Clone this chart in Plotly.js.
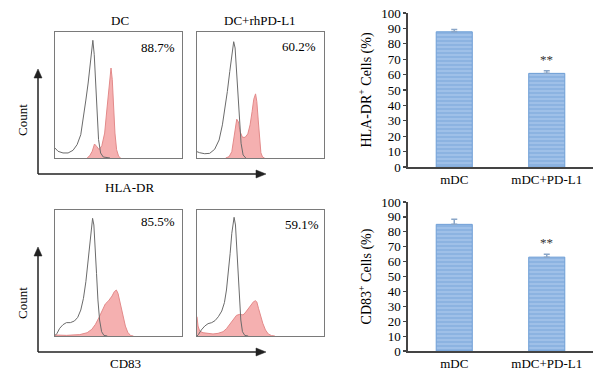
<!DOCTYPE html>
<html>
<head>
<meta charset="utf-8">
<script src="https://cdn.plot.ly/plotly-3.0.1.min.js"></script>
<style>html,body{margin:0;padding:0;background:#fff;}#chart{width:601px;height:376px;}</style>
</head>
<body>
<div id="chart"></div>
<script>
// ---- Flow cytometry histograms (channel 0-100, count normalised 0-100) ----
const hlaDC_grayX = [0,2.4,6.3,10.3,14.2,17.4,20.3,22.7,24.3,26.1,27.4,28.8,29.8,30.9,31.9,33,34.3,35.9,38,43.3];
const hlaDC_grayY = [7.9,5.3,4,4,6.1,10.6,18.5,33,46,59.5,72.8,87.3,93.4,82,59.5,35.7,14.6,4,0.8,0];
const hlaDC_pinkX = [25.3,27.4,29.3,31.1,32.7,34.8,36.9,39.1,40.6,42,43,44.1,45.1,46.2,47.2,48.5,50.1,51.7];
const hlaDC_pinkY = [0,1.9,5.3,11.1,9.3,6.6,9.8,19.8,35.7,51.6,64.8,71.4,62.2,41,19.8,6.6,1.3,0];

const hlaPD_grayX = [0,2.1,6.1,10,13.9,17.4,20,22.1,23.9,25.8,27.4,28.9,30,31.1,32.1,33.4,34.7,36.3,38.4];
const hlaPD_grayY = [5,4.2,3.4,3.7,6.9,14.3,26.3,39.5,52.8,68.7,83.3,92.3,87.3,70,48.8,27.6,11.7,2.4,0];
const hlaPD_pinkX = [22.6,25.3,27.4,28.9,30.3,31.3,32.6,33.9,35.8,37.9,40,41.8,43.4,44.7,46.1,47.1,48.2,49.2,50.3,51.6,53.2];
const hlaPD_pinkY = [0,1.1,5,15.6,27.6,30.8,28.6,21,16.4,16.4,19.1,26.3,36.9,46.7,50.9,44.8,30.2,14.3,4.2,0.8,0];

const cdDC_grayX = [0,1.6,3.7,6.3,9,12.1,15.3,17.9,20.3,22.4,24.3,25.9,27.2,28.5,29.6,30.6,31.7,32.7,33.8,35.1,36.7,38.5,41.2];
const cdDC_grayY = [0.3,2.1,6.1,9,10.6,10.6,11.9,14.8,20.6,29.9,43.1,59,74.9,88.1,93.4,88.1,72.2,49.7,28.6,12.7,3.4,0.5,0];
const cdDC_pinkX = [0,9,19.5,25.3,29,31.9,34.6,36.9,39.6,42.2,44.9,46.7,48.3,49.6,50.9,52.2,53.8,55.4,57.3,59.6,61.7];
const cdDC_pinkY = [0.8,0.5,1.1,2.6,5.3,9.3,14.6,20.1,25.4,28,31.7,35.2,36.5,33.9,28.6,22.8,14.6,7.9,2.9,0.3,0];

const cdPD_grayX = [0,1.1,3.4,6.1,8.7,11.6,14.2,16.8,19.5,21.6,23.2,24.7,26.1,27.4,28.4,29.2,30.3,31.3,32.4,33.4,34.5,35.8,37.6,40.3];
const cdPD_grayY = [0,1.1,4.8,7.9,9.8,10.6,12.2,15.3,19.8,26.5,36.5,49.7,65.6,81.5,91.5,94.2,88.1,70.9,49.7,28.6,12.7,3.4,0.5,0];
const cdPD_pinkX = [0,0.8,2.1,4.7,8.7,12.6,16.6,20.5,23.2,25.8,28.4,31.1,33.7,36.3,38.4,40.5,42.6,44.5,46.1,47.1,48.4,50,51.8,53.9,56.1,58.7,61.3];
const cdPD_pinkY = [15.3,7.9,4,2.6,2.1,1.6,2.1,3.4,5.8,9.5,13.5,16.4,17.2,16.7,19,22,25.1,27.2,28,27,22,15.9,10.1,4.8,1.6,0.3,0];

const panelTitles = ['DC', 'DC+rhPD-L1'];
const percentLabels = ['88.7%', '60.2%', '85.5%', '59.1%'];

// ---- Bar charts ----
const barCategories = ['mDC', 'mDC+PD-L1'];
const hlaValues = [87.8, 60.8];
const hlaErrors = [1.5, 1.7];
const cd83Values = [85, 63];
const cd83Errors = [3.5, 2];
const sigLabel = '**';

const FONT = 'Liberation Serif, Times New Roman, serif';
const PINK_FILL = 'rgba(242,150,150,0.75)';
const PINK_LINE = '#e38a8a';
const GRAY_LINE = '#6b6b6b';

function histPair(gx, gy, px, py, xa, ya) {
  return [
    {x: px, y: py, type: 'scatter', mode: 'lines', fill: 'tozeroy', fillcolor: PINK_FILL,
     line: {color: PINK_LINE, width: 1}, xaxis: xa, yaxis: ya, hoverinfo: 'skip', showlegend: false},
    {x: gx, y: gy, type: 'scatter', mode: 'lines',
     line: {color: GRAY_LINE, width: 1}, xaxis: xa, yaxis: ya, hoverinfo: 'skip', showlegend: false}
  ];
}

const barMarker = {
  color: '#8db4e2',
  line: {color: '#6f9fd6', width: 1},
  pattern: {shape: '-', bgcolor: '#8cb3e1', fgcolor: '#a8c6ec', size: 4, solidity: 0.35}
};

const traces = [
  ...histPair(hlaDC_grayX, hlaDC_grayY, hlaDC_pinkX, hlaDC_pinkY, 'x', 'y'),
  ...histPair(hlaPD_grayX, hlaPD_grayY, hlaPD_pinkX, hlaPD_pinkY, 'x2', 'y2'),
  ...histPair(cdDC_grayX, cdDC_grayY, cdDC_pinkX, cdDC_pinkY, 'x3', 'y3'),
  ...histPair(cdPD_grayX, cdPD_grayY, cdPD_pinkX, cdPD_pinkY, 'x4', 'y4'),
  {x: barCategories, y: hlaValues, type: 'bar', width: 0.39, marker: barMarker,
   error_y: {type: 'data', array: hlaErrors, symmetric: false, arrayminus: [0,0], color: '#8aa6c8', thickness: 1.5, width: 3},
   xaxis: 'x5', yaxis: 'y5', showlegend: false, hoverinfo: 'skip'},
  {x: barCategories, y: cd83Values, type: 'bar', width: 0.39, marker: barMarker,
   error_y: {type: 'data', array: cd83Errors, symmetric: false, arrayminus: [0,0], color: '#8aa6c8', thickness: 1.5, width: 3},
   xaxis: 'x6', yaxis: 'y6', showlegend: false, hoverinfo: 'skip'}
];

const W = 601, H = 376;
const px = v => v / W;
const py = v => 1 - v / H;

function histAxis(domain, anchor) {
  return {domain: domain, anchor: anchor, range: [0, 100], showline: true, mirror: true,
          linecolor: '#7a7a7a', linewidth: 1, showgrid: false, zeroline: false,
          showticklabels: false, ticks: '', fixedrange: true};
}

const xDomL = [px(55), px(182)], xDomR = [px(197), px(324)];
const yDomT = [py(158), py(32)], yDomB = [py(336), py(210)];

function barY(domain, anchor, title) {
  return {domain: domain, anchor: anchor, range: [0, 100], dtick: 10, tick0: 0,
          ticks: 'outside', ticklen: 3, tickwidth: 1.2, tickcolor: '#444',
          showline: true, linecolor: '#444', linewidth: 1.6, showgrid: false, zeroline: false,
          tickfont: {family: FONT, size: 13, color: '#000'},
          title: {text: title, font: {family: FONT, size: 14, color: '#000'}, standoff: 6}};
}
function barX(domain, anchor) {
  return {domain: domain, anchor: anchor, range: [-0.5, 1.5], type: 'category',
          showline: true, linecolor: '#444', linewidth: 1.6, ticks: '', showgrid: false, zeroline: false,
          tickfont: {family: FONT, size: 13, color: '#000'}};
}

const barXDom = [px(408), px(593)];
const barYDomT = [py(167), py(13)];
const barYDomB = [py(351), py(202)];

function ann(text, x, y, opts) {
  return Object.assign({text: text, xref: 'paper', yref: 'paper', x: px(x), y: py(y),
    xanchor: 'center', yanchor: 'middle', showarrow: false,
    font: {family: FONT, size: 13, color: '#000'}}, opts || {});
}

const annotations = [
  ann(panelTitles[0], 120, 20),
  ann(panelTitles[1], 260, 20),
  ann(percentLabels[0], 177, 47, {xanchor: 'right'}),
  ann(percentLabels[1], 318, 46, {xanchor: 'right'}),
  ann(percentLabels[2], 177, 221, {xanchor: 'right'}),
  ann(percentLabels[3], 321, 224, {xanchor: 'right'}),
  ann('Count', 22, 120, {textangle: -90}),
  ann('Count', 22, 303, {textangle: -90}),
  ann('HLA-DR', 129, 187),
  ann('CD83', 125, 363),
  {text: sigLabel, xref: 'x5', yref: 'y5', x: 1, y: 69.5, showarrow: false,
   font: {family: FONT, size: 13, color: '#333'}},
  {text: sigLabel, xref: 'x6', yref: 'y6', x: 1, y: 72.5, showarrow: false,
   font: {family: FONT, size: 13, color: '#333'}}
];

function arrowShapes(yAxisPx, topPx) {
  const c = '#222';
  return [
    {type: 'line', xref: 'paper', yref: 'paper', x0: px(38), x1: px(38), y0: py(yAxisPx), y1: py(topPx + 7), line: {color: c, width: 1.5}},
    {type: 'path', xref: 'paper', yref: 'paper',
     path: `M ${px(38)} ${py(topPx)} L ${px(34)} ${py(topPx + 9)} L ${px(42)} ${py(topPx + 9)} Z`,
     fillcolor: c, line: {color: c, width: 0.5}},
    {type: 'line', xref: 'paper', yref: 'paper', x0: px(38), x1: px(258), y0: py(yAxisPx), y1: py(yAxisPx), line: {color: c, width: 1.5}},
    {type: 'path', xref: 'paper', yref: 'paper',
     path: `M ${px(266)} ${py(yAxisPx)} L ${px(256)} ${py(yAxisPx - 4)} L ${px(256)} ${py(yAxisPx + 4)} Z`,
     fillcolor: c, line: {color: c, width: 0.5}}
  ];
}

const layout = {
  width: W, height: H,
  margin: {l: 0, r: 0, t: 0, b: 0},
  paper_bgcolor: '#fff', plot_bgcolor: 'rgba(0,0,0,0)',
  font: {family: FONT, size: 13, color: '#000'},
  showlegend: false,
  xaxis: histAxis(xDomL, 'y'), yaxis: histAxis(yDomT, 'x'),
  xaxis2: histAxis(xDomR, 'y2'), yaxis2: histAxis(yDomT, 'x2'),
  xaxis3: histAxis(xDomL, 'y3'), yaxis3: histAxis(yDomB, 'x3'),
  xaxis4: histAxis(xDomR, 'y4'), yaxis4: histAxis(yDomB, 'x4'),
  xaxis5: barX(barXDom, 'y5'), yaxis5: barY(barYDomT, 'x5', 'HLA-DR<sup>+</sup> Cells (%)'),
  xaxis6: barX(barXDom, 'y6'), yaxis6: barY(barYDomB, 'x6', 'CD83<sup>+</sup> Cells (%)'),
  annotations: annotations,
  shapes: [...arrowShapes(174, 69), ...arrowShapes(352, 247)]
};

Plotly.newPlot('chart', traces, layout, {displayModeBar: false, staticPlot: true});
</script>
</body>
</html>
